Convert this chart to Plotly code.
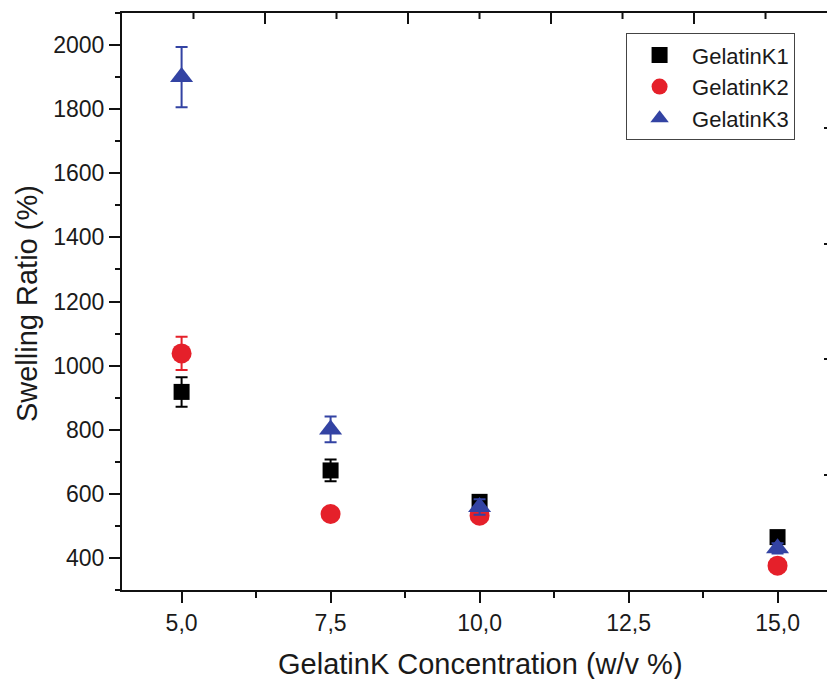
import plotly.graph_objects as go

# Gelatin concentration (w/v %)
concentration = [5.0, 7.5, 10.0, 15.0]

# Swelling ratio (%) and standard deviations per formulation
k1_ratio = [918, 673, 575, 465]
k1_err = [46, 34, 18, 12]
k2_ratio = [1038, 537, 532, 376]
k2_err = [52, 16, 14, 10]
k3_ratio = [1900, 801, 559, 430]
k3_err = [94, 40, 24, 16]

series = [
    ("GelatinK1", k1_ratio, k1_err, "#000000", "square", 16),
    ("GelatinK2", k2_ratio, k2_err, "#e5202a", "circle", 20),
    ("GelatinK3", k3_ratio, k3_err, "#3343a3", "triangle-up", 20),
]

# frame ticks along the top and right edges (fraction of the frame)
frame_major = [0.2, 0.4, 0.6, 0.8]
frame_minor = [0.1, 0.3, 0.5, 0.7, 0.9]
frame_extent = [0, 1]

FONT = "Liberation Sans, Arial, sans-serif"
INK = "#111111"
PLOT_H = 679 - 13 - 89  # plot area height in px

fig = go.Figure()
for name, vals, errs, color, symbol, size in series:
    fig.add_trace(go.Scatter(
        x=concentration, y=vals, name=name, mode="markers",
        marker=dict(symbol=symbol, size=size, color=color, line=dict(width=0)),
        error_y=dict(type="data", array=errs, visible=True,
                     color=color, thickness=2, width=6),
    ))

# invisible trace so the frame axes (top / right) get their own subplot
fig.add_trace(go.Scatter(x=frame_extent, y=frame_extent, xaxis="x2",
                         yaxis="y2", mode="markers", marker=dict(opacity=0),
                         showlegend=False, hoverinfo="skip"))

# inward tick marks hanging from the top frame line
for vals, length in ((frame_major, 11), (frame_minor, 6)):
    for v in vals:
        fig.add_shape(type="line", xref="x2", yref="paper",
                      x0=v, x1=v, y0=1, y1=1 - length / PLOT_H,
                      line=dict(color=INK, width=2), layer="above")

tickfont = dict(family=FONT, size=23, color="#1a1a1a")

fig.update_layout(
    width=827, height=679,
    margin=dict(l=122, r=0, t=13, b=89),
    paper_bgcolor="white", plot_bgcolor="white",
    separators=",.",
    showlegend=True,
    legend=dict(
        x=0.715, y=0.965, xanchor="left", yanchor="top",
        bgcolor="white", bordercolor="#444444", borderwidth=1,
        font=dict(family=FONT, size=22, color="#1a1a1a"),
        itemwidth=55, tracegroupgap=0,
    ),
    xaxis=dict(
        range=[4, 15.83], tickvals=[5.0, 7.5, 10.0, 12.5, 15.0],
        tickformat=".1f", ticks="outside", ticklen=11, tickwidth=2,
        tickcolor=INK, showline=True, linecolor=INK, linewidth=2,
        showgrid=False, zeroline=False, tickfont=tickfont,
        minor=dict(dtick=1.25, tick0=0, ticks="outside", ticklen=6,
                   tickwidth=2, tickcolor=INK, showgrid=False),
    ),
    yaxis=dict(
        range=[300, 2100], tick0=0, dtick=200, tickformat="d",
        ticks="outside", ticklen=11, tickwidth=2, tickcolor=INK,
        showline=True, linecolor=INK, linewidth=2,
        showgrid=False, zeroline=False, tickfont=tickfont,
        minor=dict(dtick=100, tick0=0, ticks="outside", ticklen=5,
                   tickwidth=2, tickcolor=INK, showgrid=False),
    ),
    # top frame line
    xaxis2=dict(
        type="linear", overlaying="x", side="top", anchor="y2",
        range=[0, 0.986], ticks="", showticklabels=False,
        showline=True, linecolor=INK, linewidth=2,
        showgrid=False, zeroline=False,
    ),
    # right frame ticks (the frame line itself lies just past the edge)
    yaxis2=dict(
        type="linear", overlaying="y", side="right", anchor="x2",
        range=[0, 1], tickmode="array", tickvals=frame_major,
        ticks="inside", ticklen=3, tickwidth=2, tickcolor=INK,
        showticklabels=False, showline=False, showgrid=False, zeroline=False,
    ),
    annotations=[
        dict(text="GelatinK Concentration (w/v %)", xref="paper", yref="paper",
             x=0.508, y=-0.128, xanchor="center", yanchor="middle",
             showarrow=False, font=dict(family=FONT, size=29, color="#1a1a1a")),
        dict(text="Swelling Ratio (%)", xref="paper", yref="paper",
             x=-0.135, y=0.497, xanchor="center", yanchor="middle",
             textangle=-90, showarrow=False,
             font=dict(family=FONT, size=29, color="#1a1a1a")),
    ],
)

fig.write_html("out.html")
